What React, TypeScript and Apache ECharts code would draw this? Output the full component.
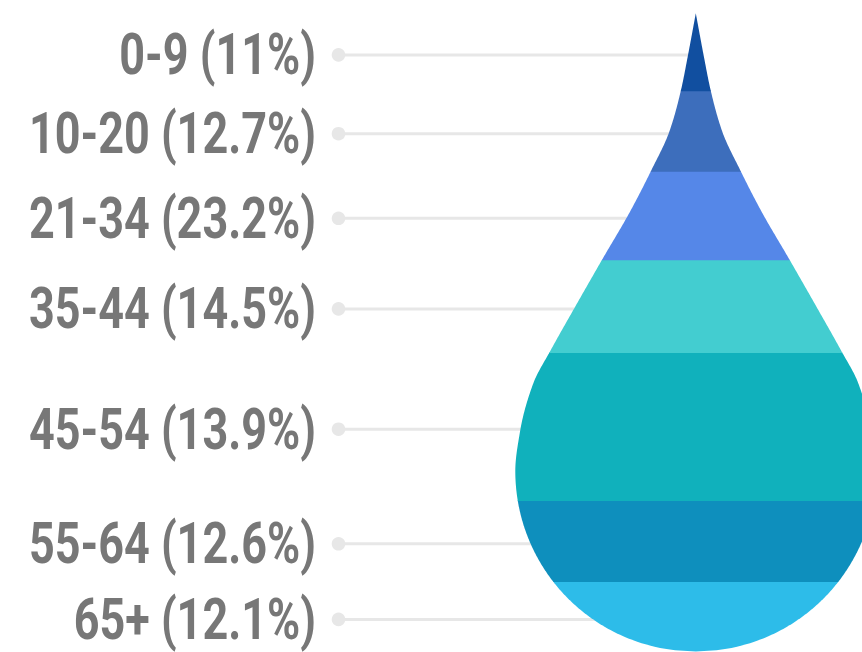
import React, { useEffect, useRef } from "react";
import * as echarts from "echarts";

// ---- data ----
const ageGroups = ["0-9", "10-20", "21-34", "35-44", "45-54", "55-64", "65+"];
const shares = [11, 12.7, 23.2, 14.5, 13.9, 12.6, 12.1];

// band colours by data index (index 0 is the bottom band of the drop)
const bandColors = ["#2dbce9", "#0e8fbd", "#10b1bc", "#43cdd0", "#5587e8", "#3d6ebc", "#114fa0"];

// ---- drop outline (shape definition, reference units: full height = 638.2) ----
const PROFILE_H = 638.2;
const profileT = [0, 43.4, 76.7, 118.4, 157, 198.4, 246, 296.7, 336.7, 370, 418.4, 457.7];
const profileW = [0, 8.1, 14.8, 26.5, 44.5, 65.8, 93.5, 122.5, 145, 162.5, 175.8, 180.5];
const CIRCLE_T = 457.7;
const CIRCLE_R = 180.5;

// layout
const DROP_CX = 695.8;
const DOT_X = 338.5;
const LABEL_RIGHT = 316;
const LABEL_DY = 3;

// monotone cubic tangents
const tangents: number[] = (() => {
  const n = profileT.length;
  const d: number[] = [];
  const h: number[] = [];
  for (let k = 0; k < n - 1; k++) {
    h.push(profileT[k + 1] - profileT[k]);
    d.push((profileW[k + 1] - profileW[k]) / h[k]);
  }
  const m: number[] = new Array(n).fill(0);
  m[0] = d[0];
  m[n - 1] = 0;
  for (let k = 1; k < n - 1; k++) {
    if (d[k - 1] * d[k] <= 0) m[k] = 0;
    else {
      m[k] = (3 * (h[k - 1] + h[k])) / ((2 * h[k] + h[k - 1]) / d[k - 1] + (h[k] + 2 * h[k - 1]) / d[k]);
    }
  }
  return m;
})();

function profileAt(u: number): number {
  if (u <= 0) return 0;
  if (u >= CIRCLE_T) {
    const dy = u - CIRCLE_T;
    return Math.sqrt(Math.max(0, CIRCLE_R * CIRCLE_R - dy * dy));
  }
  let k = 0;
  while (k < profileT.length - 2 && u > profileT[k + 1]) k++;
  const x0 = profileT[k];
  const x1 = profileT[k + 1];
  const hh = x1 - x0;
  const s = (u - x0) / hh;
  const h00 = 2 * s * s * s - 3 * s * s + 1;
  const h10 = s * s * s - 2 * s * s + s;
  const h01 = -2 * s * s * s + 3 * s * s;
  const h11 = s * s * s - s * s;
  return h00 * profileW[k] + h10 * hh * tangents[k] + h01 * profileW[k + 1] + h11 * hh * tangents[k + 1];
}

function halfWidth(tPx: number, H: number): number {
  const sc = H / PROFILE_H;
  return profileAt(tPx / sc) * sc;
}

const total = shares.reduce((a, b) => a + b, 0);
const cum: number[] = [0];
shares.forEach((v, i) => cum.push(cum[i] + v));

export default function App() {
  const ref = useRef<HTMLDivElement>(null);

  useEffect(() => {
    if (!ref.current) return;
    const chart = echarts.init(ref.current, undefined, { renderer: "svg" });

    const bandData = shares.map((v, i) => ({ value: [0, cum[i], cum[i + 1]], name: ageGroups[i] }));
    // labels listed top to bottom, each at the centre of the band in that position
    const labelData = ageGroups.map((g, i) => {
      const j = shares.length - 1 - i;
      return { value: [0, cum[j] + shares[j] / 2], name: `${g} (${shares[i]}%)` };
    });

    chart.setOption({
      animation: false,
      grid: { left: 0, right: 0, top: 13.3, bottom: 0.5 },
      xAxis: { type: "value", min: 0, max: 1, show: false },
      yAxis: { type: "value", min: 0, max: total, show: false },
      series: [
        {
          type: "custom",
          z: 1,
          data: labelData,
          encode: { x: 0, y: 1 },
          renderItem: (params: any, api: any) => {
            const y = api.coord([0, api.value(1)])[1] + LABEL_DY;
            return {
              type: "group",
              children: [
                {
                  type: "line",
                  shape: { x1: DOT_X, y1: y, x2: DROP_CX, y2: y },
                  style: { stroke: "#e7e7e7", lineWidth: 3 },
                },
                {
                  type: "circle",
                  shape: { cx: DOT_X, cy: y, r: 6.8 },
                  style: { fill: "#e7e7e7" },
                },
                {
                  type: "text",
                  x: LABEL_RIGHT,
                  y: y,
                  scaleX: 0.775,
                  style: {
                    text: labelData[params.dataIndex].name,
                    fill: "#777777",
                    fontFamily: "Roboto",
                    fontWeight: "bold",
                    fontSize: 58,
                    align: "right",
                    verticalAlign: "middle",
                  },
                },
              ],
            };
          },
        },
        {
          type: "custom",
          z: 2,
          data: bandData,
          encode: { x: 0, y: [1, 2] },
          renderItem: (params: any, api: any) => {
            const lo = api.value(1);
            const hi = api.value(2);
            const tipY = api.coord([0, total])[1];
            const baseY = api.coord([0, 0])[1];
            const H = baseY - tipY;
            const yTop = api.coord([0, hi])[1];
            let yBot = api.coord([0, lo])[1];
            if (lo > 0) yBot += 0.7;
            const n = Math.max(10, Math.ceil((yBot - yTop) / 1.2));
            const right: number[][] = [];
            const left: number[][] = [];
            for (let i = 0; i <= n; i++) {
              const y = yTop + ((yBot - yTop) * i) / n;
              const w = halfWidth(Math.min(y, baseY) - tipY, H);
              right.push([DROP_CX + w, y]);
              left.push([DROP_CX - w, y]);
            }
            const points = right.concat(left.reverse());
            return {
              type: "polygon",
              shape: { points },
              style: { fill: bandColors[params.dataIndex] },
            };
          },
        },
      ],
    });

    return () => chart.dispose();
  }, []);

  return (
    <div
      ref={ref}
      style={{ position: "fixed", left: 0, top: 0, width: 862, height: 652, background: "#ffffff" }}
    />
  );
}
